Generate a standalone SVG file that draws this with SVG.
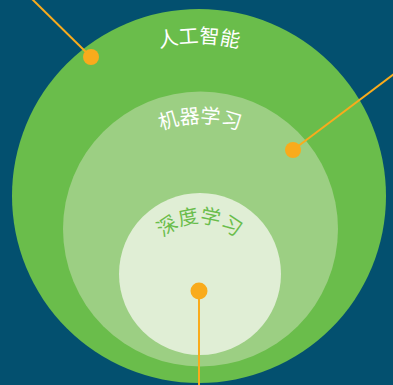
<svg xmlns="http://www.w3.org/2000/svg" width="393" height="385" viewBox="0 0 393 385">
  <style>
    .lbl { font-family: "Noto Sans CJK SC", "Noto Sans", sans-serif; font-size: 20px; text-anchor: middle; }
    .white { fill: #ffffff; }
    .green { fill: #6abd4b; }
    .line { stroke: #f9ab1c; stroke-width: 2; fill: none; }
    .dot { fill: #f9ab1c; }
  </style>
  <defs>
    <path id="arcAI" d="M 46 196 A 153 153 0 0 1 352 196"/>
    <path id="arcML" d="M 94 229 A 106 106 0 0 1 306 229"/>
    <path id="arcDL" d="M 148.5 274 A 51 51 0 0 1 250.5 274"/>
  </defs>
  <rect width="393" height="385" fill="#03506f"/>
  <g id="ai">
    <circle cx="199" cy="196" r="187" fill="#6abd4b"/>
    <text class="lbl white"><textPath href="#arcAI" startOffset="50%">人工智能</textPath></text>
  </g>
  <g id="ml">
    <circle cx="200.5" cy="229" r="137.5" fill="#9ccf83"/>
    <text class="lbl white"><textPath href="#arcML" startOffset="50%">机器学习</textPath></text>
  </g>
  <g id="dl">
    <circle cx="200" cy="274" r="81" fill="#e0eed5"/>
    <text class="lbl green"><textPath href="#arcDL" startOffset="50%">深度学习</textPath></text>
  </g>
  <g id="connectors">
    <line class="line" x1="32" y1="-1" x2="91" y2="57"/>
    <circle class="dot" cx="91" cy="57" r="8"/>
    <line class="line" x1="394" y1="74" x2="293" y2="150"/>
    <circle class="dot" cx="293" cy="150" r="8"/>
    <line class="line" x1="199" y1="291" x2="199" y2="386"/>
    <circle class="dot" cx="199" cy="291" r="8.5"/>
  </g>
</svg>
